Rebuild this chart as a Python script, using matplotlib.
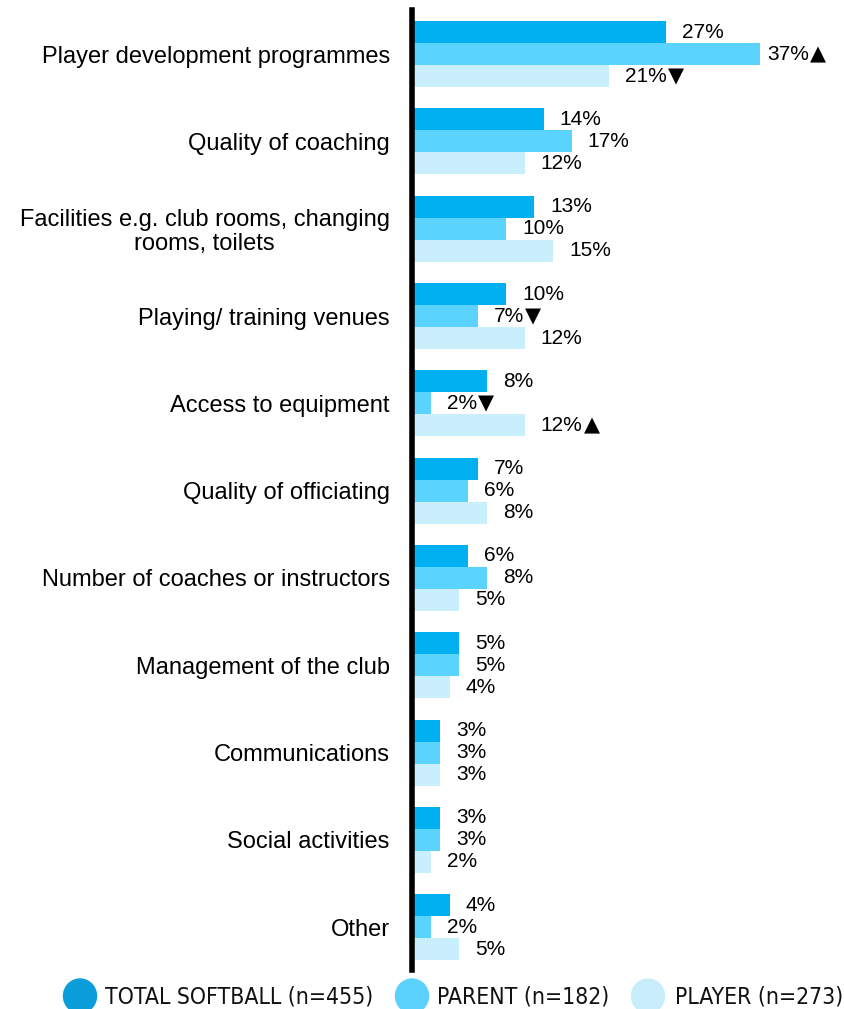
import matplotlib
matplotlib.use("Agg")
import matplotlib.pyplot as plt
from matplotlib.patches import Ellipse
import numpy as np

categories = [
    "Player development programmes",
    "Quality of coaching",
    "Facilities e.g. club rooms, changing\nrooms, toilets",
    "Playing/ training venues",
    "Access to equipment",
    "Quality of officiating",
    "Number of coaches or instructors",
    "Management of the club",
    "Communications",
    "Social activities",
    "Other",
]
total = [27, 14, 13, 10, 8, 7, 6, 5, 3, 3, 4]
parent = [37, 17, 10, 7, 2, 6, 8, 5, 3, 3, 2]
player = [21, 12, 15, 12, 12, 8, 5, 4, 3, 2, 5]
# significance markers: '' none, 'up' higher, 'down' lower
parent_sig = ["up", "", "", "down", "down", "", "", "", "", "", ""]
player_sig = ["down", "", "", "", "up", "", "", "", "", "", ""]
series_names = ["TOTAL SOFTBALL (n=455)", "PARENT (n=182)", "PLAYER (n=273)"]

bar_colors = ["#00B0F0", "#5BD3FF", "#C9EFFC"]
legend_colors = ["#0A9DD9", "#5BD1FD", "#C9EEFB"]

W, H = 845, 1009
fig = plt.figure(figsize=(W / 100, H / 100), dpi=100)
ax = fig.add_axes([412 / W, 1 - 970 / H, 423 / W, 960 / H])

n = len(categories)
y = np.arange(n)
h = 0.252
series = [total, parent, player]
sigs = [[""] * n, parent_sig, player_sig]
sym = {"up": "▲", "down": "▼", "": ""}
labels = []
for k, (vals, col, sg) in enumerate(zip(series, bar_colors, sigs)):
    ys = y + (k - 1) * h
    ax.barh(ys, vals, height=h, color=col, edgecolor="none", zorder=2)
    for yy, v, s in zip(ys, vals, sg):
        t = ax.annotate(f"{v}%", xy=(v, yy), xytext=(11.5, 0),
                        textcoords="offset points", ha="left", va="center",
                        fontsize=15, family="Liberation Sans", color="black")
        labels.append((t, yy, s))

ax.set_xlim(0, 45)
ax.set_ylim(10.49, -0.505)
ax.set_yticks(y)
ax.set_yticklabels(categories, fontsize=17, family="Liberation Sans",
                   multialignment="center", linespacing=1.12)
ax.tick_params(axis="y", length=0, pad=16)
ax.set_xticks([])
for s in ["top", "right", "bottom"]:
    ax.spines[s].set_visible(False)
ax.spines["left"].set_linewidth(4)
ax.spines["left"].set_color("black")
ax.spines["left"].set_zorder(3)

# significance triangles appended after the number labels
fig.canvas.draw()
renderer = fig.canvas.get_renderer()
limit = W - 19
for t, yy, s in labels:
    if not s:
        continue
    bb = t.get_window_extent(renderer)
    ypix = ax.transData.transform((0, yy))[1]
    tri = fig.text(bb.x1 + 1, ypix, sym[s], transform=None, ha="left",
                   va="center", fontsize=15, family="DejaVu Sans",
                   color="black")
    tb = tri.get_window_extent(renderer)
    if tb.x1 > limit:
        shift = tb.x1 - limit
        tri.set_position((bb.x1 + 1 - shift, ypix))
        t.set_position((t.get_position()[0] - shift * 72 / fig.dpi, 0))

# legend drawn in figure pixels
leg_y = H - 996
circle_x = [80, 412, 648]
text_x = [105, 437, 675]
for cx, tx, col, name in zip(circle_x, text_x, legend_colors, series_names):
    e = Ellipse((cx, leg_y), 33, 34, transform=None, color=col, clip_on=False)
    fig.patches.append(e)
    fig.text(tx / W, (H - 997) / H, name, ha="left", va="center",
             fontsize=16.5, family="DejaVu Sans", fontstretch="condensed",
             color="#111111")

fig.savefig("out.png", dpi=100)
